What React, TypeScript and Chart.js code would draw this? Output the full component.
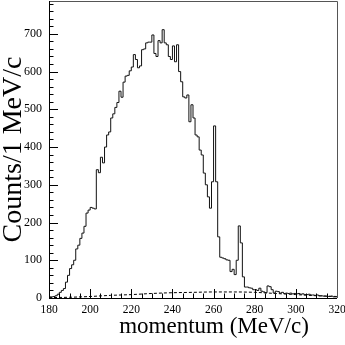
import React, { useEffect, useRef } from 'react';
import { Chart, registerables } from 'chart.js';

Chart.register(...registerables);

// Histogram: counts per 1 MeV/c bin, first bin starts at 180 MeV/c
const binStart = 180;
const counts = [
  3, 3, 4, 6, 10, 15, 20, 25, 42, 60, // 180-189
  78, 88, 100, 130, 140, 158, 172, 190, 225, 233, // 190-199
  240, 238, 236, 340, 332, 373, 358, 400, 432, 440, // 200-209
  477, 488, 505, 518, 548, 532, 572, 588, 590, 602, // 210-219
  612, 645, 632, 610, 615, 658, 660, 676, 678, 678, // 220-229
  697, 648, 640, 682, 676, 711, 676, 671, 640, 632, // 230-239
  668, 626, 671, 600, 573, 533, 530, 538, 467, 512, // 240-249
  477, 432, 427, 392, 379, 331, 300, 268, 238, 308, // 250-259
  456, 308, 162, 108, 106, 104, 101, 100, 70, 76, // 260-269
  62, 100, 191, 146, 56, 29, 29, 27, 26, 22, // 270-279
  22, 20, 26, 18, 16, 14, 32, 30, 22, 13, // 280-289
  18, 17, 13, 15, 12, 13, 12, 13, 11, 12, // 290-299
  11, 12, 10, 11, 9, 9, 10, 8, 8, 7, // 300-309
  8, 6, 6, 5, 5, 4, 4, 5, 3, 3, // 310-319
];

// Background estimate (dashed curve)
const bgMomentum = [180, 190, 200, 210, 220, 230, 240, 250, 260, 270, 280, 290, 300, 310, 320];
const bgCounts = [1, 2, 4, 7, 9, 12, 14, 15, 16, 16, 15, 12, 9, 6, 4];

const xTicks = [180, 200, 220, 240, 260, 280, 300, 320];
const yTicks = [0, 100, 200, 300, 400, 500, 600, 700];
const xMin = 180;
const xMax = 320;
const yMax = 787;
const xTitle = 'momentum (MeV/c)';
const yTitle = 'Counts/1 MeV/c';

const FONT = '"Liberation Serif", "Times New Roman", serif';

export default function App() {
  const ref = useRef<HTMLCanvasElement>(null);

  useEffect(() => {
    if (!ref.current) return;
    const histData = counts.map((v, i) => ({ x: binStart + i, y: v }));
    histData.push({ x: binStart + counts.length, y: counts[counts.length - 1] });
    const bgData = bgMomentum.map((m, i) => ({ x: m, y: bgCounts[i] }));

    const framePlugin = {
      id: 'framePlugin',
      afterDraw(chart: any) {
        const { ctx, chartArea: a, scales } = chart;
        const xs = scales.x;
        const ys = scales.y;
        ctx.save();
        ctx.lineWidth = 1;
        ctx.strokeStyle = '#000';
        // x ticks (inward)
        for (let m = xMin; m <= xMax; m += 5) {
          const px = Math.round(xs.getPixelForValue(m)) + 0.5;
          const len = m % 20 === 0 ? 9 : 4.5;
          ctx.beginPath();
          ctx.moveTo(px, a.bottom);
          ctx.lineTo(px, a.bottom - len);
          ctx.stroke();
        }
        // y ticks (inward)
        for (let v = 0; v <= yMax; v += 20) {
          const py = Math.round(ys.getPixelForValue(v)) + 0.5;
          const len = v % 100 === 0 ? 9 : 4.5;
          ctx.beginPath();
          ctx.moveTo(a.left, py);
          ctx.lineTo(a.left + len, py);
          ctx.stroke();
        }
        // frame
        ctx.strokeStyle = '#555';
        ctx.beginPath();
        ctx.moveTo(a.left, a.top + 0.5);
        ctx.lineTo(a.right + 0.5, a.top + 0.5);
        ctx.lineTo(a.right + 0.5, a.bottom);
        ctx.stroke();
        ctx.strokeStyle = '#000';
        ctx.beginPath();
        ctx.moveTo(a.left + 0.5, a.top);
        ctx.lineTo(a.left + 0.5, a.bottom + 0.5);
        ctx.lineTo(a.right, a.bottom + 0.5);
        ctx.stroke();
        // x axis title (right-shifted, ROOT style)
        ctx.fillStyle = '#000';
        ctx.font = `23px ${FONT}`;
        ctx.textAlign = 'center';
        ctx.textBaseline = 'middle';
        ctx.fillText(xTitle, a.right - 123, a.bottom + 29);
        ctx.restore();
      },
    };

    const chart = new Chart(ref.current, {
      type: 'line',
      data: {
        datasets: [
          {
            label: 'data',
            data: histData,
            stepped: 'before',
            borderColor: '#111',
            borderWidth: 1,
            pointRadius: 0,
            fill: false,
          },
          {
            label: 'background',
            data: bgData,
            borderColor: '#000',
            borderWidth: 1,
            borderDash: [3, 2],
            pointRadius: 0,
            cubicInterpolationMode: 'monotone',
            fill: false,
          },
        ],
      },
      options: {
        responsive: false,
        animation: false,
        layout: { padding: { top: 1, right: 8, left: 0, bottom: 0 } },
        plugins: {
          legend: { display: false },
          tooltip: { enabled: false },
        },
        scales: {
          x: {
            type: 'linear',
            min: xMin,
            max: xMax,
            grid: { display: false, drawTicks: false },
            border: { display: false },
            afterBuildTicks: (scale: any) => {
              scale.ticks = xTicks.map((v) => ({ value: v }));
            },
            afterFit: (scale: any) => {
              scale.height = 47;
              scale.paddingLeft = 0;
              scale.paddingRight = 0;
            },
            ticks: {
              autoSkip: false,
              maxRotation: 0,
              padding: 5,
              color: '#000',
              font: { family: FONT, size: 11.5 },
            },
            title: { display: false },
          },
          y: {
            type: 'linear',
            min: 0,
            max: yMax,
            grid: { display: false, drawTicks: false },
            border: { display: false },
            afterBuildTicks: (scale: any) => {
              scale.ticks = yTicks.map((v) => ({ value: v }));
            },
            afterFit: (scale: any) => {
              scale.width = 49;
              scale.paddingTop = 0;
              scale.paddingBottom = 0;
            },
            ticks: {
              autoSkip: false,
              padding: 7,
              color: '#000',
              font: { family: FONT, size: 12 },
            },
            title: {
              display: true,
              text: yTitle,
              color: '#000',
              padding: { top: 0, bottom: 0 },
              font: { family: FONT, size: 28, lineHeight: 1 },
            },
          },
        },
      },
      plugins: [framePlugin],
    });
    return () => chart.destroy();
  }, []);

  return (
    <div style={{ position: 'fixed', left: 0, top: 0, width: 345, height: 345, background: '#fff' }}>
      <canvas ref={ref} width={345} height={345} style={{ display: 'block' }} />
    </div>
  );
}
